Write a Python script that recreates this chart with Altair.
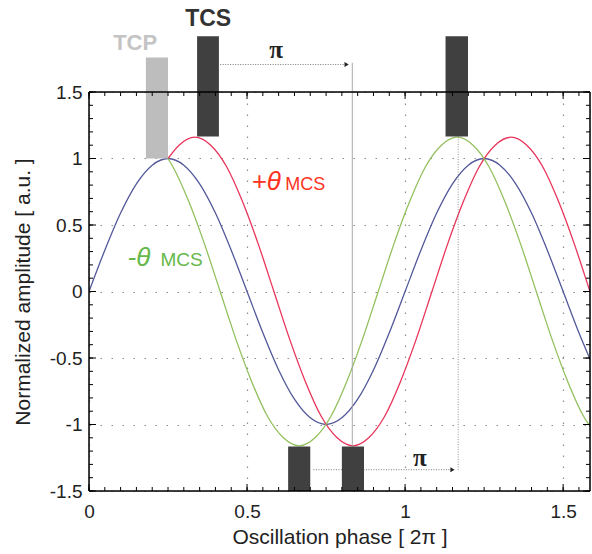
import altair as alt
import pandas as pd

# ---------------- data ----------------
# reference oscillation (blue)
blue_x = [0.0, 0.05, 0.1, 0.15, 0.2, 0.25, 0.3, 0.35, 0.4, 0.45, 0.5, 0.55, 0.6, 0.65, 0.7,
          0.75, 0.8, 0.85, 0.9, 0.95, 1.0, 1.05, 1.1, 1.15, 1.2, 1.25, 1.3, 1.35, 1.4, 1.45,
          1.5, 1.55, 1.6]
blue_y = [0.0, 0.31, 0.59, 0.81, 0.95, 1.0, 0.95, 0.81, 0.59, 0.31, 0.0, -0.31, -0.59, -0.81, -0.95,
          -1.0, -0.95, -0.81, -0.59, -0.31, 0.0, 0.31, 0.59, 0.81, 0.95, 1.0, 0.95, 0.81, 0.59, 0.31,
          0.0, -0.31, -0.59]

# +theta_MCS (red)
red_x = [0.25, 0.285, 0.335, 0.385, 0.435, 0.485, 0.535, 0.585, 0.635, 0.685, 0.735, 0.785,
         0.835, 0.885, 0.935, 0.985, 1.035, 1.085, 1.135, 1.185, 1.235, 1.285, 1.335, 1.385,
         1.435, 1.485, 1.535, 1.585, 1.635]
red_y = [1.0, 1.10, 1.16, 1.10, 0.94, 0.68, 0.36, 0.0, -0.36, -0.68, -0.94, -1.10,
         -1.16, -1.10, -0.94, -0.68, -0.36, 0.0, 0.36, 0.68, 0.94, 1.10, 1.16, 1.10,
         0.94, 0.68, 0.36, 0.0, -0.36]

# -theta_MCS (green)
green_x = [0.25, 0.265, 0.315, 0.365, 0.415, 0.465, 0.515, 0.565, 0.615, 0.665, 0.715, 0.765,
           0.815, 0.865, 0.915, 0.965, 1.015, 1.065, 1.115, 1.165, 1.215, 1.265, 1.315, 1.365,
           1.415, 1.465, 1.515, 1.565, 1.615]
green_y = [1.0, 0.94, 0.68, 0.36, 0.0, -0.36, -0.68, -0.94, -1.10, -1.16, -1.10, -0.94,
           -0.68, -0.36, 0.0, 0.36, 0.68, 0.94, 1.10, 1.16, 1.10, 0.94, 0.68, 0.36,
           0.0, -0.36, -0.68, -0.94, -1.10]

# TCP block
tcp_x1, tcp_x2, tcp_y1, tcp_y2 = [0.18], [0.25], [1.0], [1.76]
# TCS blocks
tcs_x1 = [0.342, 1.128, 0.63, 0.80]
tcs_x2 = [0.411, 1.199, 0.70, 0.87]
tcs_y1 = [1.165, 1.165, -1.5, -1.5]
tcs_y2 = [1.92, 1.92, -1.165, -1.165]

# axis ticks
x_major = [0, 0.5, 1, 1.5]
x_minor = [round(0.05 * i, 2) for i in range(0, 32)]
y_major = [-1.5, -1, -0.5, 0, 0.5, 1, 1.5]
y_minor = [round(-1.5 + 0.1 * i, 2) for i in range(0, 31)]

W, H = 501, 399
FONT = "Liberation Sans"
LABEL_EXPR = "datum.value < 0 ? '-' + format(-datum.value, '~g') : format(datum.value, '~g')"

xs = alt.Scale(domain=[0, 1.585], nice=False, zero=False)
ys = alt.Scale(domain=[-1.5, 1.5], nice=False, zero=False)


def df(**kw):
    return pd.DataFrame(kw)


def X(f):
    return alt.X(f, scale=xs)


def Y(f):
    return alt.Y(f, scale=ys)


# axis carrier layer (invisible)
axes = alt.Chart(df(x=blue_x, y=blue_y)).mark_line(opacity=0).encode(
    x=alt.X("x:Q", scale=xs, title="Oscillation phase [ 2π ]",
            axis=alt.Axis(values=x_major, labelExpr=LABEL_EXPR, labelPadding=11, titlePadding=5)),
    y=alt.Y("y:Q", scale=ys, title="Normalized amplitude [ a.u. ]",
            axis=alt.Axis(values=y_major, labelExpr=LABEL_EXPR, labelPadding=7, titlePadding=16)),
)


def curve(xv, yv, color):
    return alt.Chart(df(x=xv, y=yv)).mark_line(
        strokeWidth=1.3, interpolate="monotone", clip=True, color=color).encode(
        x=X("x:Q"), y=Y("y:Q"))


lines = [curve(blue_x, blue_y, "#525899"),
         curve(red_x, red_y, "#e8345a"),
         curve(green_x, green_y, "#93c05e")]

bars = [
    alt.Chart(df(x1=tcp_x1, x2=tcp_x2, y1=tcp_y1, y2=tcp_y2)).mark_rect(color="#bdbdbd").encode(
        x=X("x1:Q"), x2="x2:Q", y=Y("y1:Q"), y2="y2:Q"),
    alt.Chart(df(x1=tcs_x1, x2=tcs_x2, y1=tcs_y1, y2=tcs_y2)).mark_rect(color="#404040").encode(
        x=X("x1:Q"), x2="x2:Q", y=Y("y1:Q"), y2="y2:Q"),
]

# guide lines and arrows
vline1 = alt.Chart(df(x=[0.833], y1=[1.72], y2=[-1.5])).mark_rule(
    color="#a0a0a0", strokeWidth=0.9).encode(x=X("x:Q"), y=Y("y1:Q"), y2="y2:Q")
vline2 = alt.Chart(df(x=[1.168], y1=[1.165], y2=[-1.35])).mark_rule(
    color="#8a8a8a", strokeWidth=0.9, strokeDash=[1, 1.5]).encode(x=X("x:Q"), y=Y("y1:Q"), y2="y2:Q")

arrows = df(x1=[0.415, 0.71], x2=[0.815, 1.15], y=[1.707, -1.34])
arrow_lines = alt.Chart(arrows).mark_rule(color="#777", strokeWidth=1, strokeDash=[1, 1.5]).encode(
    x=X("x1:Q"), x2="x2:Q", y=Y("y:Q"))
arrow_heads = alt.Chart(arrows).mark_point(shape="triangle-right", filled=True, size=24,
                                           color="#222", opacity=1).encode(
    x=X("x2:Q"), y=Y("y:Q"))


def label(x, y, t, size, color, font=FONT, weight="normal", style="normal",
          align="left", baseline="alphabetic"):
    return alt.Chart(df(x=[x], y=[y], t=[t])).mark_text(
        font=font, fontSize=size, color=color, fontWeight=weight, fontStyle=style,
        align=align, baseline=baseline).encode(x=X("x:Q"), y=Y("y:Q"), text="t:N")


texts = [
    label(0.377, 2.05, "TCS", 23, "#333333", weight="bold", align="center", baseline="middle"),
    label(0.146, 1.87, "TCP", 22, "#c4c4c4", weight="bold", align="center", baseline="middle"),
    label(0.592, 1.756, "π", 25, "#222", font="Liberation Serif", weight="bold", align="center"),
    label(1.047, -1.31, "π", 25, "#222", font="Liberation Serif", weight="bold", align="center"),
    label(0.514, 0.76, "+θ", 26, "#ff3322", style="italic"),
    label(0.621, 0.76, "MCS", 18, "#ff3322"),
    label(0.122, 0.19, "-θ", 26, "#66b84a", style="italic"),
    label(0.226, 0.19, "MCS", 19, "#66b84a"),
]


# inward ticks
def xticks(vals, length, top):
    if top:
        y, y2 = alt.value(0), alt.value(length)
    else:
        y, y2 = alt.value(H), alt.value(H - length)
    return alt.Chart(df(x=vals)).mark_rule(color="black", strokeWidth=1).encode(
        x=X("x:Q"), y=y, y2=y2)


def yticks(vals, length, right):
    if right:
        x, x2 = alt.value(W), alt.value(W - length)
    else:
        x, x2 = alt.value(0), alt.value(length)
    return alt.Chart(df(y=vals)).mark_rule(color="black", strokeWidth=1).encode(
        y=Y("y:Q"), x=x, x2=x2)


ticks = [xticks(x_minor, 4, False), xticks(x_major, 7, False),
         xticks(x_minor, 4, True), xticks(x_major, 7, True),
         yticks(y_minor, 4, False), yticks(y_major, 7, False),
         yticks(y_minor, 4, True), yticks(y_major, 7, True)]

frame_src = df(a=[0])
frame = [
    alt.Chart(frame_src).mark_rule(color="black", strokeWidth=1.5).encode(
        x=alt.value(0), x2=alt.value(W), y=alt.value(0)),
    alt.Chart(frame_src).mark_rule(color="black", strokeWidth=1.5).encode(
        x=alt.value(0), x2=alt.value(W), y=alt.value(H)),
    alt.Chart(frame_src).mark_rule(color="black", strokeWidth=1.5).encode(
        y=alt.value(0), y2=alt.value(H), x=alt.value(0)),
    alt.Chart(frame_src).mark_rule(color="black", strokeWidth=1.5).encode(
        y=alt.value(0), y2=alt.value(H), x=alt.value(W)),
]

chart = alt.layer(
    axes, *lines, vline1, vline2, arrow_lines, arrow_heads, *bars, *texts, *ticks, *frame
).properties(
    width=W, height=H,
    autosize=alt.AutoSizeParams(type="none"),
    padding={"left": 89, "top": 92, "right": 2, "bottom": 63},
).configure_view(stroke=None).configure(background="white").configure_axis(
    ticks=False, domain=False, grid=True, gridDash=[1.5, 9.5], gridColor="#8c8c8c", gridWidth=1.2,
    labelFont=FONT, labelFontSize=19, labelColor="#222", labelFlush=False,
    titleFont=FONT, titleFontSize=21, titleFontWeight="normal", titleColor="#222",
)

chart.save("out.html", embed_options={"renderer": "svg", "actions": False})
